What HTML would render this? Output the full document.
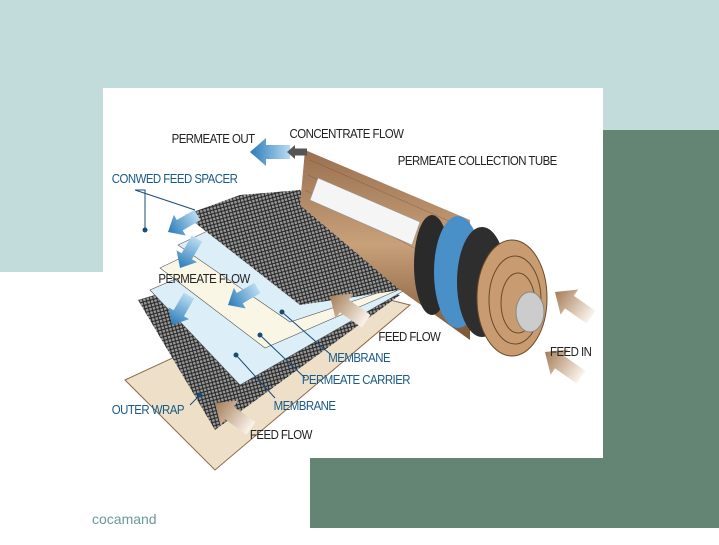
<!DOCTYPE html>
<html><head><meta charset="utf-8"><style>
html,body{margin:0;padding:0;width:719px;height:545px;overflow:hidden;background:#fff;font-family:"Liberation Sans",sans-serif}
</style></head><body>
<svg width="719" height="545" viewBox="0 0 719 545" xmlns="http://www.w3.org/2000/svg">
<defs>
<pattern id="mesh" width="5" height="5" patternUnits="userSpaceOnUse" patternTransform="rotate(30)">
<rect width="5" height="5" fill="#999"/><path d="M0 0L5 5M5 0L0 5" stroke="#222" stroke-width="1"/></pattern>
<linearGradient id="wood" x1="0" y1="0" x2="0" y2="1"><stop offset="0" stop-color="#9a7050"/><stop offset="0.5" stop-color="#c8a07a"/><stop offset="1" stop-color="#7a5434"/></linearGradient>
<linearGradient id="ba" x1="0" y1="0" x2="1" y2="0"><stop offset="0" stop-color="#2a7ab8"/><stop offset="1" stop-color="#b8dcf2"/></linearGradient>
<linearGradient id="fa" x1="0" y1="0" x2="1" y2="0"><stop offset="0" stop-color="#a57d58"/><stop offset="1" stop-color="#fbf4ec"/></linearGradient>
<g id="arr"><polygon points="0,0 16,-14 16,-7 40,-7 40,7 16,7 16,14"/></g>
</defs>
<rect x="0" y="0" width="719" height="130" fill="#c2dcdc"/>
<rect x="0" y="0" width="103" height="272" fill="#c2dcdc"/>
<rect x="310" y="130" width="409" height="398" fill="#648474"/>
<rect x="103" y="88" width="500" height="370" fill="#fff"/>
<polygon points="125,380 215,470 410,305 330,285" fill="#eee0c8" stroke="#8a6a4a"/>
<polygon points="138,300 215,430 400,295 290,255" fill="url(#mesh)"/>
<polygon points="150,290 240,385 405,290 265,240" fill="#dceef8" stroke="#555" stroke-width="0.6"/>
<polygon points="160,268 265,348 405,287 255,222" fill="#faf6e6" stroke="#555" stroke-width="0.6"/>
<polygon points="178,245 290,322 405,284 262,205" fill="#dceef8" stroke="#555" stroke-width="0.6"/>
<polygon points="185,215 240,195 300,190 400,290 300,305" fill="url(#mesh)"/>
<polygon points="305,150 470,220 470,340 400,290 300,205" fill="url(#wood)"/>
<g stroke="#6a4a2a" stroke-width="0.5" opacity="0.6"><line x1="310" y1="160" x2="465" y2="228"/><line x1="308" y1="175" x2="465" y2="250"/><line x1="305" y1="190" x2="465" y2="275"/></g>
<polygon points="318,178 420,222 412,245 310,200" fill="#f5f5f5" stroke="#999" stroke-width="0.6"/>
<ellipse cx="432" cy="265" rx="18" ry="50" fill="#2a2a2a"/>
<ellipse cx="458" cy="272" rx="24" ry="56" fill="#4a90c8"/>
<ellipse cx="482" cy="282" rx="25" ry="55" fill="#2e2e2e"/>
<ellipse cx="512" cy="298" rx="35" ry="58" fill="#c89c70" stroke="#6a4a2a"/>
<ellipse cx="515" cy="300" rx="26" ry="44" fill="none" stroke="#6a4a2a"/>
<ellipse cx="518" cy="303" rx="17" ry="30" fill="none" stroke="#6a4a2a"/>
<ellipse cx="530" cy="312" rx="14" ry="20" fill="#ccc" stroke="#888"/>
<g fill="url(#ba)">
<use href="#arr" transform="translate(250,152)"/>
<use href="#arr" transform="translate(168,232) rotate(-30) scale(0.85)"/>
<use href="#arr" transform="translate(228,305) rotate(-30) scale(0.85)"/>
<use href="#arr" transform="translate(180,268) rotate(-60) scale(0.85)"/>
<use href="#arr" transform="translate(172,325) rotate(-60) scale(0.85)"/>
</g>
<use href="#arr" transform="translate(287,152) scale(0.5)" fill="#555"/>
<g fill="url(#fa)">
<use href="#arr" transform="translate(555,292) rotate(35) scale(1.1)"/>
<use href="#arr" transform="translate(545,352) rotate(35) scale(1.1)"/>
<use href="#arr" transform="translate(330,296) rotate(35) scale(1.1)"/>
<use href="#arr" transform="translate(215,403) rotate(35) scale(1.1)"/>
</g>
<g stroke="#1a4a78" stroke-width="1" fill="none">
<polyline points="135,190 145,190 145,230"/><line x1="135" y1="190" x2="195" y2="210"/>
<line x1="282" y1="312" x2="330" y2="354"/>
<line x1="260" y1="335" x2="305" y2="378"/>
<line x1="236" y1="355" x2="275" y2="398"/>
<line x1="200" y1="395" x2="190" y2="405"/>
</g>
<g fill="#1a4a78"><circle cx="282" cy="312" r="2.5"/><circle cx="260" cy="335" r="2.5"/><circle cx="236" cy="355" r="2.5"/><circle cx="200" cy="395" r="2.5"/><circle cx="145" cy="230" r="2.5"/></g>
<g font-size="13" fill="#222" letter-spacing="-0.6" transform="scale(0.88,1)">
<text x="195" y="143">PERMEATE OUT</text>
<text x="329" y="138">CONCENTRATE FLOW</text>
<text x="452" y="165">PERMEATE COLLECTION TUBE</text>
<text x="180" y="283">PERMEATE FLOW</text>
<text x="430" y="341">FEED FLOW</text>
<text x="625" y="356">FEED IN</text>
<text x="284" y="439">FEED FLOW</text>
</g>
<g font-size="13" fill="#1a5a88" letter-spacing="-0.6" transform="scale(0.88,1)">
<text x="127" y="183">CONWED FEED SPACER</text>
<text x="373" y="362">MEMBRANE</text>
<text x="343" y="384">PERMEATE CARRIER</text>
<text x="311" y="410">MEMBRANE</text>
<text x="127" y="414">OUTER WRAP</text>
</g>
<text x="92" y="524" font-size="14" fill="#6a9a9a">cocamand</text>
</svg>
</body></html>
